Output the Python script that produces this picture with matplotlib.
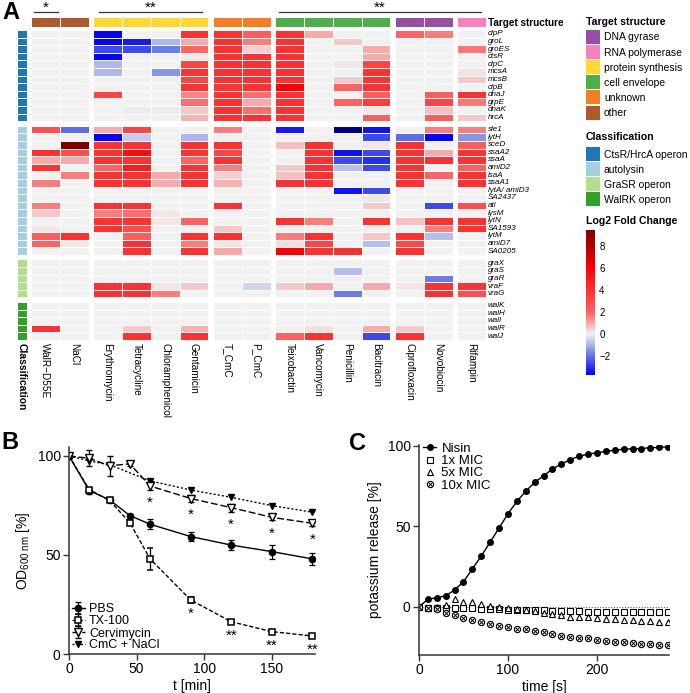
import numpy as np
import matplotlib
matplotlib.use("Agg")
import matplotlib.pyplot as plt
from matplotlib.colors import LinearSegmentedColormap, Normalize, ListedColormap
from matplotlib.patches import Rectangle
from matplotlib.cm import ScalarMappable
from matplotlib.legend_handler import HandlerTuple

plt.rcParams['font.family'] = ['Liberation Sans', 'DejaVu Sans']
plt.rcParams['mathtext.fontset'] = 'custom'
plt.rcParams['mathtext.rm'] = 'Liberation Sans'
plt.rcParams['mathtext.it'] = 'Liberation Sans:italic'
plt.rcParams['mathtext.bf'] = 'Liberation Sans:bold'

# ---------------- Panel A data ----------------
conditions = ["WalR\u2212D55E", "NaCl", "Erythromycin", "Tetracycline", "Chloramphenicol",
              "Gentamicin", "T_CmC", "P_CmC", "Teixobactin", "Vancomycin", "Penicillin",
              "Bacitracin", "Ciprofloxacin", "Novobiocin", "Rifampin"]
target_structure = ["other", "other",
                    "protein synthesis", "protein synthesis", "protein synthesis", "protein synthesis",
                    "unknown", "unknown",
                    "cell envelope", "cell envelope", "cell envelope", "cell envelope",
                    "DNA gyrase", "DNA gyrase", "RNA polymerase"]
target_colors = {"DNA gyrase": "#984EA3", "RNA polymerase": "#F781BF",
                 "protein synthesis": "#FFD92F", "cell envelope": "#4DAF4A",
                 "unknown": "#F28022", "other": "#AE5A2A"}
class_colors = {"CtsR/HrcA operon": "#1F78B4", "autolysin": "#A6CEE3",
                "GraSR operon": "#B2DF8A", "WalRK operon": "#33A02C"}

genes_ctsr = ["clpP", "groL", "groES", "ctsR", "clpC", "mcsA", "mcsB", "clpB",
              "dnaJ", "grpE", "dnaK", "hrcA"]
lfc_ctsr = [
    [0, 0, -3.6, 0, 0, 4, 4, 2.2, 4, 1.0, 0, 0, 2.0, 1.6, 0],
    [0, 0, -3.6, -3.3, -0.9, 1.0, 4, 1.6, 4, 0, 0.6, 0, 0, 0, 0],
    [0, 0, -2.6, -2.6, -1.8, 2.0, 4, 0.5, 4, 0, 0, 1.0, 0, 0, 1.7],
    [0, 0, -3.6, 0, 0, 0.15, 4, 4, 4, 0, 0, 1.0, 0, 0, 0],
    [0, 0, -0.9, 0, 0, 3.2, 4, 4, 4, 0, 0.2, 3.2, 0, 0, 0],
    [0, 0, -0.9, 0, -1.4, 4, 4, 4, 4, 0, 0, 4, 0, 0, 0.25],
    [0, 0, 0, 0, 0, 3.2, 4, 4, 4, 0, 0.6, 4, 0, 0, 0.6],
    [0, 0, 0, 0, 0, 4, 4, 4, 6, 0, 2.0, 4, 0, 0, 0],
    [0, 0, 3.2, 0, 0, 1.5, 4, 1.8, 4, 0, 0, 2.2, 0, 2.2, 4],
    [0, 0, 0, 0, 0, 1.8, 4, 1.0, 4, 0, 2.0, 3.5, 0, 3.2, 1.7],
    [0, 0, 0, -0.1, -0.1, 0.6, 4, 1.8, 4, 0, 0, 0.2, 0, 0.7, 0],
    [0, 0, 0, 0, 0, 0.9, 4, 4, 4, 0, 0, 2.2, 0, 2.2, 0.6],
]
genes_autolysin = ["sle1", "lytH", "sceD", "ssaA2", "ssaA", "amiD2", "isaA", "ssaA1",
                   "lytA/ amiD3", "SA2437", "atl", "lysM", "lytN", "SA1593", "lytM",
                   "amiD7", "SA0205"]
lfc_autolysin = [
    [2.8, -2.1, 1.0, 3.2, 0, 0, 1.6, 0, -3.3, 0, -5.0, -3.4, 0, 1.6, 1.6],
    [0, 0, -3.6, -0.6, 0, -0.9, 0, 0, 0, 0, 0, -2.6, -2.1, -3.6, -1.4],
    [0, 9.4, 4, 4, 0, 4, 4, 0, 0.7, 4, 0, 0.2, 4, 0, 2.2],
    [4, 2.8, 4, 5.5, 0, 4, 3.2, 0, 0, 4, -3.4, -2.6, 4, 1.0, 4],
    [1.0, 1.0, 4, 4, 0, 2.0, 4, 0, 0, 4, -2.6, -3.0, 4, 4, 4],
    [4, 0, 2.0, 5.0, 0, 4, 1.6, 0, 0.6, 4, -0.8, -2.6, 4, 0, 2.2],
    [0, 1.6, 4, 4, 1.0, 4, 0.5, 0, 0.7, 4, 0, 0, 4, 2.0, 4],
    [1.6, 0, 4, 4, 1.0, 4, 0.9, 0, 4, 4, 0, 0, 4, 0, 4],
    [0, 0, 0, 0, 0, 0, 0, 0, 0, 0, -3.4, -2.6, 0, 0, 0],
    [0, 0, 0, 0, 0, 0, 0, 0, 0, 0, 0, 0.2, 0, 0, 0],
    [1.6, 0, 4, 4, 0, 0, 4, 0, 0, 0, 0, 0.6, 0, -2.6, 2.8],
    [0.6, 0, 1.6, 1.8, 0.2, 0, 0, 0, 0, 0, 0, 0, 0, 0, 0],
    [0, 0, 4, 4, 0.2, 2.0, 0, 0, 4, 1.6, 0, 4, 0.7, 4, 4],
    [0.2, 0, 4, 2.8, 0, 0, 0.6, 0, 0, 0, 0, 0, 0, 1.6, 4],
    [2.2, 4, 0, 2.2, 0, 4, 4, 0, 1.6, 4, 0, 0.6, 4, -0.8, 0],
    [2.0, 0.2, 0, 4, 0, 1.6, 0.2, 0, 0.3, 3.2, 0, -0.8, 3.0, 0, 0],
    [0, 0, 0, 4, 0, 4, 1.0, 0, 6, 4, 4, 0, 4, 0, 0],
]
genes_grasr = ["graX", "graS", "graR", "vraF", "vraG"]
lfc_grasr = [
    [0, 0, 0, 0, 0, 0, 0, 0, 0, 0, 0, 0, 0, 0, 0],
    [0, 0, 0, 0, 0, 0, 0, 0, 0, 0, -0.8, 0, 0, 0, 0],
    [0, 0, 0, 0, 0, 0, 0, 0, 0, 0, 0, 0, 0, -1.8, 0],
    [0, 0, 4, 4, 0.2, 0.6, 0, -0.45, 0.6, 1.0, 0, 1.0, 0.2, 4, 4],
    [0, 0, 4, 4, 1.6, 0, 0, 0, 0, 0, -1.8, 0, 0, 4, 2.8],
]
genes_walrk = ["walK", "walH", "walI", "walR", "walJ"]
lfc_walrk = [
    [0, 0, 0, 0, 0, 0, 0, 0, 0, 0, 0, 0, 0, 0, 0],
    [0, 0, 0, 0, 0, 0, 0, 0, 0, 0, 0, 0, 0, 0, 0],
    [0, 0, 0, 0, 0, 0, 0, 0, 0, 0, 0, 0, 0, 0, 0],
    [4, 0, 0, 0.6, 0, 0.9, 0, 0, 0, 0.3, 0, 1.0, 0.6, 0, 0],
    [0, 0, 0, 4, 0, 4, 0, 0, 2.0, 4, 0, -2.6, 4, 0, 0],
]
row_blocks = [("CtsR/HrcA operon", genes_ctsr, lfc_ctsr),
              ("autolysin", genes_autolysin, lfc_autolysin),
              ("GraSR operon", genes_grasr, lfc_grasr),
              ("WalRK operon", genes_walrk, lfc_walrk)]

# ---------------- Panel B data ----------------
t_min = [0, 15, 30, 45, 60, 90, 120, 150, 180]
od_pbs = [100, 82.5, 77.8, 69.9, 65.5, 59.3, 55.0, 51.7, 48.0]
od_pbs_err = [0, 1.5, 1.0, 0.8, 2.5, 2.5, 2.5, 3.5, 3.0]
od_tx = [100, 83.0, 77.5, 66.3, 48.0, 27.3, 16.3, 11.3, 9.1]
od_tx_err = [0, 1.0, 1.0, 1.0, 5.5, 1.5, 1.0, 0.8, 0.8]
od_cmc = [100, 98.8, 95.0, 96.0, 84.8, 78.5, 73.9, 69.0, 66.0]
od_cmc_err = [0, 4.0, 5.0, 1.0, 2.0, 2.0, 2.0, 1.5, 1.5]
t_min_nacl = [0, 15, 30, 60, 90, 120, 150, 180]
od_cmc_nacl = [100, 97.5, 95.5, 87.4, 82.8, 79.1, 74.9, 71.6]
stars_tx = {90: "*", 120: "**", 150: "**", 180: "**"}
stars_cmc = {60: "*", 90: "*", 120: "*", 150: "*", 180: "*"}

# ---------------- Panel C data ----------------
t_s = list(range(0, 290, 10))
k_nisin = [0, 4.6, 5.6, 6.8, 10.4, 15.5, 23.6, 31.5, 40.2, 48.9, 57.8, 65.4, 71.8, 77.2,
           81.4, 85.5, 88.8, 91.3, 93.6, 94.8, 95.7, 96.5, 97.3, 97.9, 98.1, 98.3, 98.8,
           99.0, 99.4]
k_1x = [0, -1.0, -1.0, -0.8, -0.8, -1.0, -1.0, -1.2, -1.4, -1.6, -1.8, -2.0, -2.0, -2.2,
        -2.2, -2.4, -2.6, -2.6, -2.8, -3.0, -3.0, -3.0, -3.0, -3.2, -3.2, -3.2, -3.2,
        -3.4, -3.4]
k_5x = [0, -0.5, -0.3, 1.0, 4.6, 3.1, 2.7, 1.7, 0.6, 0.0, -1.0, -1.2, -2.1, -2.7,
        -3.7, -4.6, -5.4, -6.2, -6.6, -6.6, -7.2, -7.5, -7.9, -8.3, -8.5, -8.7, -8.9,
        -9.3, -9.7]
k_10x = [0, -1.0, -1.7, -3.7, -5.4, -7.2, -8.3, -9.3, -10.8, -12.0, -12.8, -13.7, -14.1,
         -15.1, -15.9, -16.8, -18.0, -18.6, -19.3, -19.7, -20.7, -21.3, -21.7, -22.2,
         -22.6, -23.0, -23.4, -23.6, -23.8]

# ---------------- figure ----------------
W, H = 690, 693
fig = plt.figure(figsize=(W / 100, H / 100), dpi=100)


def fax(x0, y0, x1, y1, **kw):
    return fig.add_axes([x0 / W, 1 - y1 / H, (x1 - x0) / W, (y1 - y0) / H], **kw)


# overlay for legends / letters in pixel coordinates
axo = fax(0, 0, W, H)
axo.set_xlim(0, W)
axo.set_ylim(H, 0)
axo.axis('off')

# colormap
vmin, vmax = -3.7, 9.45
nodes = [(-3.7, '#0000FF'), (-1.8, '#6A80E8'), (0.0, '#F2F2F2'), (1.0, '#F8A9A9'),
         (2.0, '#FF6060'), (4.0, '#FF3030'), (6.0, '#FF0000'), (9.45, '#800000')]
cmap = LinearSegmentedColormap.from_list(
    'lfc', [((v - vmin) / (vmax - vmin), c) for v, c in nodes])
cmap.set_under('#000080')
norm = Normalize(vmin, vmax)

gx, gy = 0.16, 0.59
ncol = len(conditions)
col_x0 = []
g = 0
col_groups = []
start = 0
for i in range(ncol):
    if i > 0 and target_structure[i] != target_structure[i - 1]:
        g += 1
        col_groups.append((start, i))
        start = i
    col_x0.append(i + g * gx)
col_groups.append((start, ncol))
xmax = col_x0[-1] + 1

row_y0 = []
y = 0.0
for bi, (cls, genes, vals) in enumerate(row_blocks):
    if bi > 0:
        y += gy
    row_y0.append(y)
    y += len(genes)
ymax = y

axh = fax(31, 30, 486, 340)
axc = fax(17, 30, 27, 340)
axa = fax(31, 17, 486, 27)

class_names = list(class_colors.keys())
class_cmap = ListedColormap([class_colors[c] for c in class_names])
tnames = list(target_colors.keys())
target_cmap = ListedColormap([target_colors[t] for t in tnames])

for bi, (cls, genes, vals) in enumerate(row_blocks):
    M = np.array(vals, dtype=float)
    Y = row_y0[bi] + np.arange(len(genes) + 1)
    for (c0, c1) in col_groups:
        X = col_x0[c0] + np.arange(c1 - c0 + 1)
        axh.pcolormesh(X, Y, M[:, c0:c1], cmap=cmap, norm=norm,
                       edgecolors='white', linewidth=0.6)
    for k, gname in enumerate(genes):
        axh.text(xmax + 0.07, row_y0[bi] + k + 0.5, gname, style='italic',
                 fontsize=5.8, va='center', ha='left')
    cidx = np.full((len(genes), 1), class_names.index(cls))
    axc.pcolormesh([0, 1], Y, cidx, cmap=class_cmap, vmin=-0.5,
                   vmax=len(class_names) - 0.5, edgecolors='white', linewidth=0.6)

for (c0, c1) in col_groups:
    X = col_x0[c0] + np.arange(c1 - c0 + 1)
    tid = np.array([[tnames.index(target_structure[j]) for j in range(c0, c1)]])
    axa.pcolormesh(X, [0, 1], tid, cmap=target_cmap, vmin=-0.5,
                   vmax=len(tnames) - 0.5, edgecolors='white', linewidth=0.6)

for a in (axh, axc):
    a.set_ylim(ymax, 0)
    a.axis('off')
axh.set_xlim(0, xmax)
axc.set_xlim(0, 1)
axa.set_xlim(0, xmax)
axa.set_ylim(0, 1)
axa.axis('off')

for j, name in enumerate(conditions):
    axh.text(col_x0[j] + 0.5, ymax + 0.45, name, rotation=270, ha='center', va='top',
             fontsize=7.2)
axc.text(0.45, ymax + 0.45, 'Classification', rotation=270, ha='center', va='top',
         fontsize=7.4, fontweight='bold')
axa.text(xmax + 0.07, 0.45, 'Target structure', fontsize=7.2, fontweight='bold',
         va='center', ha='left')

# significance bars
sig = [(0.1, 0.94, '*'), (2.36, 5.94, '**'), (8.61, 15.63, '**')]
for x0, x1, lab in sig:
    axa.plot([x0, x1], [1.53, 1.53], color='#333333', lw=0.9, clip_on=False)
    axa.text((x0 + x1) / 2, 1.5, lab, ha='center', va='baseline', fontsize=11,
             clip_on=False)

# legends on right
axo.text(586, 22, 'Target structure', fontsize=7.6, fontweight='bold', va='center')
for k, name in enumerate(["DNA gyrase", "RNA polymerase", "protein synthesis",
                          "cell envelope", "unknown", "other"]):
    y0 = 30 + k * 15.1
    axo.add_patch(Rectangle((586, y0), 14, 14, color=target_colors[name], lw=0))
    axo.text(604, y0 + 7.5, name, fontsize=7.5, va='center')
axo.text(586, 137, 'Classification', fontsize=7.6, fontweight='bold', va='center')
for k, name in enumerate(class_names):
    y0 = 147 + k * 15.1
    axo.add_patch(Rectangle((586, y0), 14, 14, color=class_colors[name], lw=0))
    axo.text(604, y0 + 7.5, name, fontsize=7.5, va='center')
axo.text(586, 221, 'Log2 Fold Change', fontsize=7.6, fontweight='bold', va='center')
cax = fax(586, 230, 595, 375)
cb = fig.colorbar(ScalarMappable(norm=norm, cmap=cmap), cax=cax)
cb.outline.set_visible(False)
cb.set_ticks([-2, 0, 2, 4, 6, 8])
cb.ax.tick_params(length=0, labelsize=7, pad=3)

# panel letters
axo.text(2, 1, 'A', fontsize=17, fontweight='bold', va='top', ha='left')
axo.text(1, 431, 'B', fontsize=17, fontweight='bold', va='top', ha='left')
axo.text(349, 432, 'C', fontsize=17, fontweight='bold', va='top', ha='left')


def style_axes(ax):
    for s in ('top', 'right'):
        ax.spines[s].set_visible(False)
    for s in ('left', 'bottom'):
        ax.spines[s].set_linewidth(1.1)
        ax.spines[s].set_color('#333333')
    ax.tick_params(direction='out', length=4, width=1.0, color='#333333',
                   labelsize=10, pad=2)


# ---------------- Panel B ----------------
axB = fax(69, 447, 315, 654)
ekw = dict(color='black', capsize=2.5, elinewidth=0.9, capthick=0.9, lw=1.0)
hb1 = axB.errorbar(t_min, od_pbs, yerr=od_pbs_err, marker='o', ms=4.5, ls='-',
                   label='PBS', **ekw)
hb2 = axB.errorbar(t_min, od_tx, yerr=od_tx_err, marker='s', ms=5, mfc='white',
                   mew=1.1, ls=(0, (3, 1.5)), label='TX-100', **ekw)
hb3 = axB.errorbar(t_min, od_cmc, yerr=od_cmc_err, marker='v', ms=6, mfc='white',
                   mew=1.0, ls=(0, (5, 2)), label='Cervimycin', **ekw)
hb4 = axB.plot(t_min_nacl, od_cmc_nacl, marker='v', ms=4, color='black',
               ls=(0, (1.5, 1.5)), lw=1.0, label='CmC + NaCl')[0]
for t, lab in stars_tx.items():
    axB.annotate(lab, (t, od_tx[t_min.index(t)]), xytext=(0, -5),
                 textcoords='offset points', ha='center', va='top', fontsize=11)
for t, lab in stars_cmc.items():
    axB.annotate(lab, (t, od_cmc[t_min.index(t)]), xytext=(0, -7),
                 textcoords='offset points', ha='center', va='top', fontsize=11)
axB.set_xlim(0, 182)
axB.set_ylim(0, 104.5)
axB.set_xticks([0, 50, 100, 150])
axB.set_yticks([0, 50, 100])
style_axes(axB)
axB.set_xlabel('t [min]', fontsize=10, labelpad=2)
axB.set_ylabel(r'OD$_{\mathrm{600\ nm}}$ [%]', fontsize=10, labelpad=4)
axB.legend(handles=[hb1, hb2, hb3, hb4], loc='lower left', bbox_to_anchor=(0.0, 0.0),
           frameon=False, fontsize=9, handlelength=1.1, handletextpad=0.3,
           labelspacing=0.0, borderaxespad=0.1, borderpad=0.1)

# ---------------- Panel C ----------------
axC = fax(419, 445, 669, 655)
axC.axhline(0, color='#666666', ls=(0, (1, 1.5)), lw=0.8, zorder=1)
hc1 = axC.plot(t_s, k_nisin, color='black', marker='o', ms=4, lw=1.0, label='Nisin')[0]
hc2 = axC.plot(t_s, k_1x, ls='none', marker='s', ms=4.2, mfc='white', mec='black',
               mew=0.8, label='1x MIC')[0]
hc3 = axC.plot(t_s, k_5x, ls='none', marker='^', ms=4.5, mfc='white', mec='black',
               mew=0.8, label='5x MIC')[0]
hc4a = axC.plot(t_s, k_10x, ls='none', marker='o', ms=4.5, mfc='white', mec='black',
                mew=0.8)[0]
hc4b = axC.plot(t_s, k_10x, ls='none', marker='x', ms=3.0, mec='black', mew=0.7)[0]
axC.set_xlim(0, 281)
axC.set_ylim(-30, 100.5)
axC.set_xticks([0, 100, 200])
axC.set_yticks([0, 50, 100])
style_axes(axC)
axC.set_xlabel('time [s]', fontsize=10, labelpad=2)
axC.set_ylabel('potassium release [%]', fontsize=10, labelpad=4)
axC.legend(handles=[hc1, hc2, hc3, (hc4a, hc4b)],
           labels=['Nisin', '1x MIC', '5x MIC', '10x MIC'],
           handler_map={tuple: HandlerTuple(ndivide=1)},
           loc='upper left', bbox_to_anchor=(0.0, 1.03), frameon=False, fontsize=9.5,
           handlelength=1.0, handletextpad=0.4, labelspacing=0.0, borderaxespad=0.2,
           borderpad=0.1)

fig.savefig('out.png', dpi=100)
